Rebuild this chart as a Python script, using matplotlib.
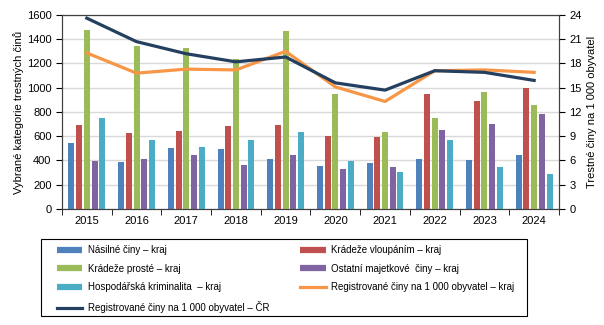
import numpy as np
import matplotlib
matplotlib.use("Agg")
import matplotlib.pyplot as plt
from matplotlib.lines import Line2D
from matplotlib.patches import Rectangle

plt.rcParams['font.family'] = ['Liberation Sans', 'DejaVu Sans']
plt.rcParams['font.size'] = 8

years = ['2015', '2016', '2017', '2018', '2019', '2020', '2021', '2022', '2023', '2024']
nasilne = [543, 390, 505, 497, 414, 357, 381, 414, 406, 447]
vloupanim = [694, 628, 645, 686, 694, 604, 595, 949, 892, 999]
proste = [1476, 1345, 1328, 1238, 1468, 949, 637, 752, 966, 859]
ostatni = [398, 414, 447, 365, 447, 332, 348, 653, 702, 785]
hospodarska = [752, 571, 513, 571, 637, 398, 307, 571, 348, 291]
reg_kraj = [19.3, 16.8, 17.3, 17.2, 19.5, 15.1, 13.3, 17.1, 17.2, 16.9]
reg_cr = [23.6, 20.7, 19.2, 18.2, 18.8, 15.6, 14.7, 17.1, 16.9, 15.9]

bar_series = [
    (nasilne, '#4F81BD', 'Násilné činy – kraj'),
    (vloupanim, '#C0504D', 'Krádeže vloupáním – kraj'),
    (proste, '#9BBB59', 'Krádeže prosté – kraj'),
    (ostatni, '#8064A2', 'Ostatní majetkové  činy – kraj'),
    (hospodarska, '#4BACC6', 'Hospodářská kriminalita  – kraj'),
]
c_kraj = '#F79646'
c_cr = '#243F60'

fig = plt.figure(figsize=(6.04, 3.25), dpi=100)
ax = fig.add_axes([0.1026, 0.357, 0.8229, 0.597])
x = np.arange(len(years))
step = 0.155
width = 0.12
for i, (vals, col, lab) in enumerate(bar_series):
    ax.bar(x + (i - 2) * step, vals, width, color=col, zorder=3)

ax.set_xlim(-0.5, len(years) - 0.5)
ax.set_ylim(0, 1600)
ax.set_yticks(range(0, 1601, 200))
ax.set_xticks(x)
ax.set_xticklabels(years)
ax.set_xticks(np.arange(-0.5, len(years), 1.0), minor=True)
ax.tick_params(axis='x', which='major', length=0, pad=5)
ax.tick_params(axis='x', which='minor', length=4, direction='out')
ax.tick_params(axis='y', length=4, direction='out')
ax.grid(axis='y', color='#D9D9D9', linewidth=1, zorder=0)
ax.set_ylabel('Vybrané kategorie trestných činů', labelpad=2)

ax2 = ax.twinx()
ax2.plot(x, reg_kraj, color=c_kraj, linewidth=2.3, zorder=4)
ax2.plot(x, reg_cr, color=c_cr, linewidth=2.3, zorder=5)
ax2.set_ylim(0, 24)
ax2.set_yticks(range(0, 25, 3))
ax2.tick_params(axis='y', length=4, direction='out')
ax2.set_ylabel('Trestné činy na 1 000 obyvatel')

for a in (ax, ax2):
    for s in a.spines.values():
        s.set_color('#404040')
        s.set_linewidth(0.8)

# legend frame drawn separately so the padding can match
fig.patches.append(Rectangle((41 / 604, 1 - 316 / 325), 486 / 604, 77 / 325,
                             transform=fig.transFigure, fill=False,
                             edgecolor='black', linewidth=0.8))

h = [Line2D([], [], color=c, linewidth=4.5, solid_capstyle='butt') for _, c, _ in bar_series]
hk = Line2D([], [], color=c_kraj, linewidth=2.3)
hc = Line2D([], [], color=c_cr, linewidth=2.3)
handles = [h[0], h[2], h[4], hc, h[1], h[3], hk]
labels = [bar_series[0][2], bar_series[2][2], bar_series[4][2],
          'Registrované činy na 1 000 obyvatel – ČR',
          bar_series[1][2], bar_series[3][2],
          'Registrované činy na 1 000 obyvatel – kraj']
fig.legend(handles, labels, ncol=2, loc='upper left',
           bbox_to_anchor=(57 / 604, 1 - 245 / 325, 457 / 604, 0.0), mode='expand',
           frameon=False, fontsize=7.0, handlelength=2.6, handletextpad=0.55,
           labelspacing=0.9, borderpad=0, borderaxespad=0, columnspacing=1.0)

fig.savefig('out.png', dpi=100)
